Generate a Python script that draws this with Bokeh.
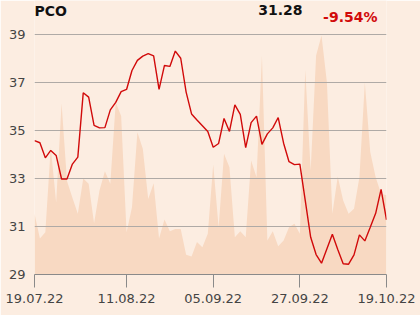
import pandas as pd
from bokeh.plotting import figure
from bokeh.models import Range1d, FixedTicker, Label
from bokeh.embed import file_html
from bokeh.resources import INLINE

# ---- data ----
ticker_name = "PCO"
last_price = "31.28"
change_pct = "-9.54%"

# trading days (Warsaw, Aug 15 holiday)
trade_days = [d for d in pd.bdate_range("2022-07-19", "2022-10-19") if d != pd.Timestamp("2022-08-15")]
day_labels = [d.strftime("%d.%m.%y") for d in trade_days]
tick_labels = ["19.07.22", "11.08.22", "05.09.22", "27.09.22", "19.10.22"]
y_ticks = [29, 31, 33, 35, 37, 39]

price = [34.58, 34.49, 33.86, 34.17, 33.96, 32.98, 32.98, 33.60, 33.89, 36.57,
         36.39, 35.21, 35.11, 35.12, 35.86, 36.17, 36.62, 36.71, 37.50, 37.92,
         38.10, 38.20, 38.11, 36.71, 37.71, 37.67, 38.31, 38.01, 36.60, 35.69,
         35.44, 35.20, 34.96, 34.30, 34.46, 35.50, 34.96, 36.07, 35.67, 34.29,
         35.33, 35.60, 34.42, 34.86, 35.11, 35.54, 34.47, 33.70, 33.58, 33.60,
         32.08, 30.55, 29.83, 29.47, 30.07, 30.68, 30.04, 29.45, 29.43, 29.82,
         30.65, 30.40, 30.97, 31.55, 32.55, 31.28]

volume = [25.3, 15.0, 17.6, 53.0, 30.0, 71.4, 39.0, 32.0, 25.3, 40.0,
          37.8, 21.4, 35.0, 43.0, 37.8, 71.8, 66.0, 17.6, 28.0, 59.3,
          52.4, 31.5, 38.0, 15.0, 22.9, 18.0, 19.0, 19.0, 8.2, 7.5,
          13.5, 11.4, 17.0, 45.8, 19.7, 50.3, 44.7, 15.5, 18.0, 15.5,
          47.5, 40.5, 91.3, 14.2, 18.0, 11.8, 14.2, 19.7, 21.1, 17.0,
          85.3, 43.3, 91.3, 99.6, 80.0, 25.3, 40.8, 30.8, 25.3, 27.4,
          40.5, 80.0, 51.0, 40.5, 33.6, 33.0]

x = list(range(len(price)))
tick_pos = [day_labels.index(t) for t in tick_labels]

BG = "#FCEDE1"
RED = "#D10A0A"
TXT = "#444444"

# frame spans canvas top (0) to 274 px; 24 px per price unit, 39 at 34 px
Y_TOP = 39 + 34 / 24
VOL_TOP = 100 * 274 / 240

p = figure(width=420, height=315, output_backend="svg", toolbar_location=None,
           x_range=Range1d(0, len(price) - 1), y_range=Range1d(29, Y_TOP))
p.min_border_left = 34
p.min_border_right = 34
p.min_border_top = 0
p.min_border_bottom = 41
p.background_fill_color = BG
p.border_fill_color = BG
p.outline_line_color = None

p.extra_y_ranges = {"vol": Range1d(0, VOL_TOP)}
area = p.varea(x=x, y1=0, y2=volume, y_range_name="vol", fill_color="#F8D9C2", fill_alpha=1.0)
area.level = "image"

p.line(x=x, y=price, line_color=RED, line_width=1.4)

p.xgrid.visible = False
p.ygrid.ticker = FixedTicker(ticks=y_ticks)
p.ygrid.grid_line_color = "#AFAAA6"
p.ygrid.grid_line_width = 1

p.xaxis.ticker = FixedTicker(ticks=tick_pos)
p.xaxis.major_label_overrides = {pos: lab for pos, lab in zip(tick_pos, tick_labels)}
p.xaxis.axis_line_color = "#8A8A8A"
p.xaxis.major_tick_line_color = "#8A8A8A"
p.xaxis.major_tick_out = 13
p.xaxis.major_tick_in = 0
p.xaxis.minor_tick_line_color = None
p.xaxis.major_label_standoff = 6
p.xaxis.major_label_text_font = "DejaVu Sans"
p.xaxis.major_label_text_font_size = "13px"
p.xaxis.major_label_text_color = TXT

p.yaxis.ticker = FixedTicker(ticks=y_ticks)
p.yaxis.axis_line_color = None
p.yaxis.major_tick_line_color = None
p.yaxis.minor_tick_line_color = None
p.yaxis.major_label_standoff = 3
p.yaxis.major_label_text_font = "DejaVu Sans"
p.yaxis.major_label_text_font_size = "13px"
p.yaxis.major_label_text_color = TXT

px_per_x = 352 / (len(price) - 1)
def xs(px):
    return (px - 34) / px_per_x
def ys(py):
    return 39 + (34 - py) / 24

p.add_layout(Label(x=xs(34), y=ys(10), text=ticker_name, text_font="DejaVu Sans",
                   text_font_style="bold", text_font_size="14px", text_color="#111111",
                   text_baseline="middle", text_align="left"))
p.add_layout(Label(x=xs(302), y=ys(9), text=last_price, text_font="DejaVu Sans",
                   text_font_style="bold", text_font_size="14px", text_color="#111111",
                   text_baseline="middle", text_align="right"))
p.add_layout(Label(x=xs(377), y=ys(16.5), text=change_pct, text_font="DejaVu Sans",
                   text_font_style="bold", text_font_size="14px", text_color=RED,
                   text_baseline="middle", text_align="right"))

open("out.html", "w").write(file_html(p, INLINE))
